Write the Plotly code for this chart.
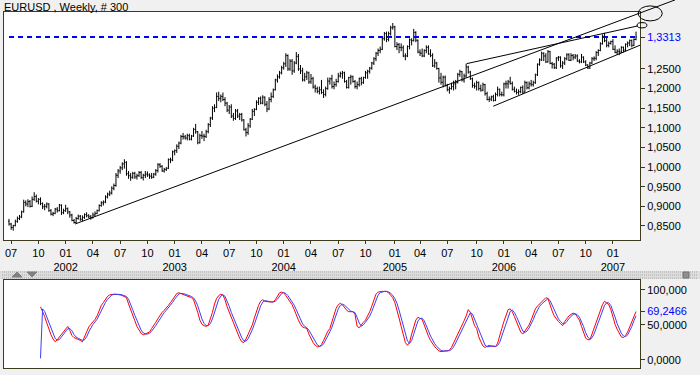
import plotly.graph_objects as go
import pandas as pd

# ---------------- data ----------------
week_dates = pd.date_range("2001-06-29", periods=300, freq="7D")

bar_open = [
    0.862, 0.855, 0.846, 0.851, 0.862, 0.869, 0.873, 0.886, 0.910, 0.906,
    0.912, 0.900, 0.918, 0.925, 0.913, 0.918, 0.907, 0.899, 0.900, 0.906,
    0.889, 0.880, 0.882, 0.893, 0.889, 0.903, 0.884, 0.889, 0.894, 0.886,
    0.878, 0.864, 0.859, 0.869, 0.875, 0.867, 0.872, 0.879, 0.876, 0.873,
    0.871, 0.878, 0.882, 0.889, 0.902, 0.909, 0.911, 0.924, 0.931, 0.934,
    0.946, 0.953, 0.979, 0.990, 0.998, 1.008, 1.012, 0.983, 0.978, 0.974,
    0.984, 0.975, 0.978, 0.986, 0.973, 0.979, 0.982, 0.980, 0.977, 0.974,
    0.982, 0.991, 1.006, 1.002, 0.990, 0.994, 0.997, 1.019, 1.018, 1.039,
    1.042, 1.053, 1.061, 1.078, 1.077, 1.074, 1.080, 1.071, 1.079, 1.096,
    1.090, 1.062, 1.080, 1.079, 1.078, 1.090, 1.108, 1.125, 1.150, 1.152,
    1.180, 1.175, 1.180, 1.172, 1.163, 1.145, 1.153, 1.130, 1.124, 1.143,
    1.130, 1.134, 1.120, 1.095, 1.088, 1.105, 1.122, 1.142, 1.147, 1.165,
    1.175, 1.163, 1.178, 1.160, 1.148, 1.172, 1.180, 1.197, 1.222, 1.230,
    1.240, 1.253, 1.263, 1.284, 1.250, 1.270, 1.245, 1.265, 1.282, 1.250,
    1.245, 1.222, 1.230, 1.240, 1.217, 1.225, 1.204, 1.200, 1.193, 1.197,
    1.190, 1.185, 1.200, 1.219, 1.225, 1.205, 1.210, 1.218, 1.232, 1.238,
    1.240, 1.218, 1.203, 1.228, 1.230, 1.218, 1.205, 1.210, 1.225, 1.215,
    1.228, 1.240, 1.244, 1.252, 1.265, 1.276, 1.290, 1.297, 1.300, 1.327,
    1.340, 1.325, 1.340, 1.355, 1.357, 1.307, 1.312, 1.305, 1.304, 1.283,
    1.283, 1.307, 1.324, 1.322, 1.343, 1.323, 1.293, 1.290, 1.283, 1.297,
    1.305, 1.288, 1.284, 1.258, 1.265, 1.251, 1.227, 1.216, 1.229, 1.208,
    1.197, 1.200, 1.205, 1.212, 1.215, 1.236, 1.243, 1.222, 1.232, 1.255,
    1.242, 1.225, 1.208, 1.206, 1.215, 1.200, 1.196, 1.210, 1.187, 1.172,
    1.173, 1.179, 1.170, 1.185, 1.198, 1.185, 1.184, 1.212, 1.212, 1.217,
    1.213, 1.198, 1.193, 1.190, 1.192, 1.203, 1.191, 1.215, 1.202, 1.212,
    1.210, 1.215, 1.235, 1.262, 1.273, 1.290, 1.283, 1.268, 1.294, 1.264,
    1.262, 1.253, 1.278, 1.280, 1.258, 1.265, 1.276, 1.286, 1.272, 1.284,
    1.280, 1.283, 1.270, 1.268, 1.280, 1.268, 1.260, 1.252, 1.265, 1.276,
    1.277, 1.292, 1.297, 1.314, 1.333, 1.322, 1.310, 1.315, 1.320, 1.300,
    1.292, 1.295, 1.293, 1.305, 1.298, 1.313, 1.316, 1.322, 1.310, 1.325,
]
bar_high = [
    0.868, 0.858, 0.853, 0.866, 0.874, 0.878, 0.889, 0.917, 0.915, 0.918,
    0.916, 0.925, 0.936, 0.930, 0.921, 0.923, 0.910, 0.906, 0.910, 0.908,
    0.893, 0.886, 0.896, 0.898, 0.906, 0.905, 0.894, 0.904, 0.897, 0.888,
    0.881, 0.868, 0.873, 0.879, 0.878, 0.877, 0.882, 0.885, 0.880, 0.878,
    0.884, 0.887, 0.892, 0.905, 0.913, 0.915, 0.928, 0.935, 0.940, 0.951,
    0.958, 0.985, 0.995, 1.003, 1.012, 1.020, 1.015, 0.990, 0.985, 0.988,
    0.988, 0.983, 0.990, 0.990, 0.983, 0.990, 0.989, 0.984, 0.985, 0.985,
    0.995, 1.010, 1.010, 1.005, 0.998, 1.000, 1.022, 1.024, 1.042, 1.045,
    1.058, 1.065, 1.082, 1.087, 1.082, 1.085, 1.085, 1.082, 1.100, 1.110,
    1.092, 1.085, 1.092, 1.085, 1.095, 1.112, 1.128, 1.155, 1.160, 1.190,
    1.192, 1.185, 1.190, 1.178, 1.166, 1.158, 1.160, 1.138, 1.148, 1.148,
    1.138, 1.138, 1.122, 1.100, 1.112, 1.125, 1.148, 1.150, 1.170, 1.178,
    1.180, 1.183, 1.180, 1.168, 1.178, 1.190, 1.200, 1.225, 1.236, 1.245,
    1.258, 1.268, 1.290, 1.287, 1.275, 1.275, 1.270, 1.293, 1.288, 1.260,
    1.253, 1.240, 1.245, 1.243, 1.237, 1.230, 1.210, 1.205, 1.205, 1.222,
    1.198, 1.205, 1.228, 1.228, 1.235, 1.218, 1.225, 1.240, 1.243, 1.245,
    1.243, 1.222, 1.230, 1.235, 1.233, 1.222, 1.218, 1.228, 1.230, 1.230,
    1.245, 1.248, 1.255, 1.268, 1.280, 1.293, 1.302, 1.307, 1.330, 1.344,
    1.345, 1.345, 1.360, 1.367, 1.360, 1.318, 1.316, 1.315, 1.310, 1.290,
    1.310, 1.328, 1.328, 1.352, 1.346, 1.325, 1.300, 1.302, 1.300, 1.310,
    1.310, 1.300, 1.290, 1.275, 1.268, 1.253, 1.240, 1.233, 1.233, 1.212,
    1.205, 1.215, 1.220, 1.222, 1.240, 1.248, 1.245, 1.238, 1.2635, 1.258,
    1.245, 1.228, 1.215, 1.220, 1.218, 1.210, 1.215, 1.212, 1.192, 1.180,
    1.182, 1.184, 1.190, 1.205, 1.200, 1.192, 1.215, 1.220, 1.222, 1.230,
    1.218, 1.205, 1.200, 1.198, 1.205, 1.208, 1.220, 1.218, 1.218, 1.222,
    1.220, 1.238, 1.264, 1.277, 1.294, 1.292, 1.290, 1.298, 1.296, 1.268,
    1.265, 1.280, 1.283, 1.282, 1.270, 1.280, 1.290, 1.290, 1.290, 1.288,
    1.288, 1.287, 1.275, 1.288, 1.282, 1.272, 1.262, 1.268, 1.280, 1.282,
    1.295, 1.300, 1.318, 1.338, 1.342, 1.330, 1.320, 1.322, 1.326, 1.310,
    1.300, 1.302, 1.308, 1.307, 1.315, 1.320, 1.325, 1.325, 1.328, 1.345,
]
bar_low = [
    0.851, 0.840, 0.838, 0.849, 0.858, 0.865, 0.870, 0.884, 0.900, 0.898,
    0.897, 0.898, 0.914, 0.910, 0.905, 0.903, 0.893, 0.890, 0.895, 0.886,
    0.877, 0.875, 0.880, 0.884, 0.887, 0.878, 0.880, 0.886, 0.880, 0.871,
    0.862, 0.856, 0.857, 0.866, 0.863, 0.862, 0.868, 0.872, 0.870, 0.866,
    0.869, 0.874, 0.880, 0.887, 0.899, 0.902, 0.908, 0.920, 0.926, 0.930,
    0.941, 0.950, 0.972, 0.983, 0.992, 0.996, 0.978, 0.970, 0.965, 0.970,
    0.970, 0.968, 0.975, 0.970, 0.966, 0.972, 0.975, 0.970, 0.970, 0.972,
    0.978, 0.986, 0.998, 0.988, 0.986, 0.990, 0.995, 1.010, 1.015, 1.030,
    1.036, 1.046, 1.058, 1.070, 1.070, 1.068, 1.068, 1.068, 1.077, 1.085,
    1.058, 1.060, 1.072, 1.066, 1.074, 1.086, 1.102, 1.120, 1.140, 1.150,
    1.168, 1.165, 1.168, 1.155, 1.140, 1.135, 1.125, 1.118, 1.120, 1.125,
    1.120, 1.116, 1.093, 1.078, 1.082, 1.100, 1.120, 1.130, 1.145, 1.158,
    1.160, 1.160, 1.155, 1.140, 1.145, 1.165, 1.176, 1.195, 1.215, 1.225,
    1.236, 1.248, 1.255, 1.245, 1.245, 1.235, 1.240, 1.262, 1.245, 1.237,
    1.218, 1.218, 1.222, 1.212, 1.212, 1.200, 1.190, 1.188, 1.185, 1.186,
    1.176, 1.180, 1.197, 1.210, 1.200, 1.198, 1.205, 1.215, 1.228, 1.225,
    1.215, 1.200, 1.200, 1.210, 1.215, 1.200, 1.198, 1.205, 1.208, 1.212,
    1.225, 1.225, 1.238, 1.248, 1.260, 1.270, 1.283, 1.290, 1.298, 1.322,
    1.318, 1.320, 1.335, 1.350, 1.305, 1.298, 1.290, 1.295, 1.280, 1.272,
    1.280, 1.300, 1.310, 1.320, 1.318, 1.290, 1.283, 1.280, 1.280, 1.290,
    1.286, 1.280, 1.255, 1.253, 1.248, 1.215, 1.210, 1.203, 1.205, 1.193,
    1.187, 1.197, 1.195, 1.198, 1.213, 1.230, 1.218, 1.215, 1.228, 1.238,
    1.222, 1.202, 1.200, 1.195, 1.195, 1.192, 1.193, 1.182, 1.170, 1.166,
    1.168, 1.167, 1.168, 1.180, 1.180, 1.180, 1.180, 1.200, 1.200, 1.210,
    1.195, 1.190, 1.185, 1.184, 1.188, 1.186, 1.190, 1.198, 1.198, 1.205,
    1.205, 1.212, 1.232, 1.258, 1.270, 1.270, 1.265, 1.266, 1.262, 1.251,
    1.250, 1.250, 1.270, 1.253, 1.250, 1.260, 1.272, 1.270, 1.270, 1.272,
    1.275, 1.268, 1.264, 1.265, 1.265, 1.257, 1.250, 1.250, 1.262, 1.270,
    1.272, 1.283, 1.295, 1.312, 1.318, 1.305, 1.305, 1.312, 1.298, 1.290,
    1.286, 1.285, 1.290, 1.292, 1.295, 1.305, 1.308, 1.305, 1.308, 1.323,
]
bar_close = [
    0.855, 0.846, 0.851, 0.862, 0.869, 0.873, 0.886, 0.910, 0.906, 0.912,
    0.900, 0.918, 0.925, 0.913, 0.918, 0.907, 0.899, 0.900, 0.906, 0.889,
    0.880, 0.882, 0.893, 0.889, 0.903, 0.884, 0.889, 0.894, 0.886, 0.878,
    0.864, 0.859, 0.869, 0.875, 0.867, 0.872, 0.879, 0.876, 0.873, 0.871,
    0.878, 0.882, 0.889, 0.902, 0.909, 0.911, 0.924, 0.931, 0.934, 0.946,
    0.953, 0.979, 0.990, 0.998, 1.008, 1.012, 0.983, 0.978, 0.974, 0.984,
    0.975, 0.978, 0.986, 0.973, 0.979, 0.982, 0.980, 0.977, 0.974, 0.982,
    0.991, 1.006, 1.002, 0.990, 0.994, 0.997, 1.019, 1.018, 1.039, 1.042,
    1.053, 1.061, 1.078, 1.077, 1.074, 1.080, 1.071, 1.079, 1.096, 1.090,
    1.062, 1.080, 1.079, 1.078, 1.090, 1.108, 1.125, 1.150, 1.152, 1.180,
    1.175, 1.180, 1.172, 1.163, 1.145, 1.153, 1.130, 1.124, 1.143, 1.130,
    1.134, 1.120, 1.095, 1.088, 1.105, 1.122, 1.142, 1.147, 1.165, 1.175,
    1.163, 1.178, 1.160, 1.148, 1.172, 1.180, 1.197, 1.222, 1.230, 1.240,
    1.253, 1.263, 1.284, 1.250, 1.270, 1.245, 1.265, 1.282, 1.250, 1.245,
    1.222, 1.230, 1.240, 1.217, 1.225, 1.204, 1.200, 1.193, 1.197, 1.190,
    1.185, 1.200, 1.219, 1.225, 1.205, 1.210, 1.218, 1.232, 1.238, 1.240,
    1.218, 1.203, 1.228, 1.230, 1.218, 1.205, 1.210, 1.225, 1.215, 1.228,
    1.240, 1.244, 1.252, 1.265, 1.276, 1.290, 1.297, 1.300, 1.327, 1.340,
    1.325, 1.340, 1.355, 1.357, 1.307, 1.312, 1.305, 1.304, 1.283, 1.283,
    1.307, 1.324, 1.322, 1.343, 1.323, 1.293, 1.290, 1.283, 1.297, 1.305,
    1.288, 1.284, 1.258, 1.265, 1.251, 1.227, 1.216, 1.229, 1.208, 1.197,
    1.200, 1.205, 1.212, 1.215, 1.236, 1.243, 1.222, 1.232, 1.255, 1.242,
    1.225, 1.208, 1.206, 1.215, 1.200, 1.196, 1.210, 1.187, 1.172, 1.173,
    1.179, 1.170, 1.185, 1.198, 1.185, 1.184, 1.212, 1.212, 1.217, 1.213,
    1.198, 1.193, 1.190, 1.192, 1.203, 1.191, 1.215, 1.202, 1.212, 1.210,
    1.215, 1.235, 1.262, 1.273, 1.290, 1.283, 1.268, 1.294, 1.264, 1.262,
    1.253, 1.278, 1.280, 1.258, 1.265, 1.276, 1.286, 1.272, 1.284, 1.280,
    1.283, 1.270, 1.268, 1.280, 1.268, 1.260, 1.252, 1.265, 1.276, 1.277,
    1.292, 1.297, 1.314, 1.333, 1.322, 1.310, 1.315, 1.320, 1.300, 1.292,
    1.295, 1.293, 1.305, 1.298, 1.313, 1.316, 1.322, 1.310, 1.325, 1.3313,
]

last_price = 1.3313

# stochastic oscillator (starts at bar 15)
stoch_start = 15
stoch_k = [
    76, 70, 62, 53, 44, 36, 30, 26, 29, 33,
    37, 41, 45, 48, 42, 35, 32, 31, 30, 28,
    26, 33, 40, 47, 51, 54, 58, 63, 72, 78,
    82, 87, 91, 93, 94, 94, 94, 94, 93, 92,
    91, 89, 80, 71, 64, 56, 48, 42, 38, 36,
    37, 38, 40, 45, 49, 54, 59, 64, 68, 71,
    74, 78, 82, 87, 92, 95, 96, 95, 94, 93,
    92, 91, 89, 86, 78, 68, 57, 51, 49, 48,
    50, 58, 68, 80, 88, 92, 94, 93, 86, 76,
    68, 60, 55, 46, 38, 31, 26, 25, 30, 36,
    43, 50, 60, 70, 78, 84, 86, 84, 83, 83,
    83, 83, 86, 92, 96, 97, 96, 92, 88, 84,
    79, 72, 64, 57, 51, 47, 46, 45, 37, 30,
    25, 21, 19, 19, 22, 28, 35, 41, 45, 55,
    66, 74, 79, 81, 79, 75, 71, 69, 69, 69,
    65, 48, 46, 51, 54, 57, 62, 69, 77, 87,
    94, 97, 98, 98, 98, 98, 96, 92, 89, 82,
    72, 60, 48, 36, 25, 21, 25, 37, 49, 57,
    61, 60, 58, 50, 41, 34, 28, 23, 19, 16,
    13, 12, 13, 13, 13, 14, 18, 24, 31, 37,
    42, 49, 56, 63, 72, 68, 57, 49, 45, 33,
    26, 20, 18, 19, 21, 20, 19, 19, 24, 33,
    45, 55, 63, 72, 73, 69, 62, 55, 47, 40,
    37, 41, 46, 50, 57, 66, 73, 77, 80, 83,
    86, 89, 88, 78, 70, 63, 58, 55, 52, 49,
    55, 60, 63, 65, 67, 66, 61, 57, 48, 38,
    31, 29, 29, 37, 46, 54, 62, 71, 79, 84,
    82, 79, 72, 61, 51, 44, 38, 33, 32, 35,
    40, 48, 56, 64, 69.2466,
]
stoch_d = [
    2.4, 73.0, 69.3, 61.7, 53.0, 44.3, 36.7, 30.7, 28.3, 29.3,
    33.0, 37.0, 41.0, 44.7, 45.0, 41.7, 36.3, 32.7, 31.0, 29.7,
    28.0, 29.0, 33.0, 40.0, 46.0, 50.7, 54.3, 58.3, 64.3, 71.0,
    77.3, 82.3, 86.7, 90.3, 92.7, 93.7, 94.0, 94.0, 93.7, 93.0,
    92.0, 90.7, 86.7, 80.0, 71.7, 63.7, 56.0, 48.7, 42.7, 38.7,
    37.0, 37.0, 38.3, 41.0, 44.7, 49.3, 54.0, 59.0, 63.7, 67.7,
    71.0, 74.3, 78.0, 82.3, 87.0, 91.3, 94.3, 95.3, 95.0, 94.0,
    93.0, 92.0, 90.7, 88.7, 84.3, 77.3, 67.7, 58.7, 52.3, 49.3,
    49.0, 52.0, 58.7, 68.7, 78.7, 86.7, 91.3, 93.0, 91.0, 85.0,
    76.7, 68.0, 61.0, 53.7, 46.3, 38.3, 31.7, 27.3, 27.0, 30.3,
    36.3, 43.0, 51.0, 60.0, 69.3, 77.3, 82.7, 84.7, 84.3, 83.3,
    83.0, 83.0, 84.0, 87.0, 91.3, 95.0, 96.3, 95.0, 92.0, 88.0,
    83.7, 78.3, 71.7, 64.3, 57.3, 51.7, 48.0, 46.0, 42.7, 37.3,
    30.7, 25.3, 21.7, 19.7, 20.0, 23.0, 28.3, 34.7, 40.3, 47.0,
    55.3, 65.0, 73.0, 78.0, 79.7, 78.3, 75.0, 71.7, 69.7, 69.0,
    67.7, 60.7, 53.0, 48.3, 50.3, 54.0, 57.7, 62.7, 69.3, 77.7,
    86.0, 92.7, 96.3, 97.7, 98.0, 98.0, 97.3, 95.3, 92.3, 87.7,
    81.0, 71.3, 60.0, 48.0, 36.3, 27.3, 23.7, 27.7, 37.0, 47.7,
    55.7, 59.3, 59.7, 56.0, 49.7, 41.7, 34.3, 28.3, 23.3, 19.3,
    16.0, 13.7, 12.7, 12.7, 13.0, 13.3, 15.0, 18.7, 24.3, 30.7,
    36.7, 42.7, 49.0, 56.0, 63.7, 67.7, 65.7, 58.0, 50.3, 42.3,
    34.7, 26.3, 21.3, 19.0, 19.3, 20.0, 20.0, 19.3, 20.7, 25.3,
    34.0, 44.3, 54.3, 63.3, 69.3, 71.3, 68.0, 62.0, 54.7, 47.3,
    41.3, 39.3, 41.3, 45.7, 51.0, 57.7, 65.3, 72.0, 76.7, 80.0,
    83.0, 86.0, 87.7, 85.0, 78.7, 70.3, 63.7, 58.7, 55.0, 52.0,
    52.0, 54.7, 59.3, 62.7, 65.0, 66.0, 64.7, 61.3, 55.3, 47.7,
    39.0, 32.7, 29.7, 31.7, 37.3, 45.7, 54.0, 62.3, 70.7, 78.0,
    81.7, 81.7, 77.7, 70.7, 61.3, 52.0, 44.3, 38.3, 34.3, 33.3,
    35.7, 41.0, 48.0, 56.0, 63.1,
]
last_stoch = 69.2466

# tick labels
price_ticks = [0.85, 0.90, 0.95, 1.00, 1.05, 1.10, 1.15, 1.20, 1.25]
price_tick_text = ["0,8500", "0,9000", "0,9500", "1,0000", "1,0500",
                   "1,1000", "1,1500", "1,2000", "1,2500"]
last_price_text = "1,3313"
osc_ticks = [0, 50, 100]
osc_tick_text = ["0,0000", "50,0000", "100,000"]
last_stoch_text = "69,2466"

# hand-drawn studies: (bar index, price) anchors
trend_a = [(31.5, 0.855), (317.6, 1.4258)]
trend_b = [(218.3, 1.2635), (299.9, 1.3596)]
trend_c = [(230.9, 1.155), (300.9, 1.3104)]
ellipse_big = [(300.0, 1.3723), (311.5, 1.4105)]
ellipse_small = [(299.5, 1.3545), (304.2, 1.3680)]

# ---------------- layout geometry ----------------
W, H = 700, 375
ML, MR, MT, MB = 4, 60, 12, 7
X0, X1 = -2.4, 300.9
Y0, Y1 = 0.8143, 1.395
MAIN_DOM = [0.3596, 1.0]
OSC_DOM = [0.0, 0.2472]
OSC_RANGE = [-11.43, 114.29]
BORDER = "#3c3c1c"
BLUE = "#0000ff"

def to_paper(i, p):
    px = (i - X0) / (X1 - X0)
    py = MAIN_DOM[0] + (p - Y0) / (Y1 - Y0) * (MAIN_DOM[1] - MAIN_DOM[0])
    return px, py

def pix_paper(x, y):
    return (x - ML) / (W - ML - MR), (H - MB - y) / (H - MT - MB)

idx = list(range(len(bar_close)))

fig = go.Figure()
fig.add_trace(go.Ohlc(
    x=idx, open=bar_open, high=bar_high, low=bar_low, close=bar_close,
    increasing=dict(line=dict(color="black", width=1)),
    decreasing=dict(line=dict(color="black", width=1)),
    tickwidth=0.45, xaxis="x", yaxis="y", hoverinfo="skip",
))
fig.add_trace(go.Scatter(
    x=[idx[0], idx[-1]], y=[last_price, last_price], mode="lines",
    line=dict(color=BLUE, width=2, dash="5px,4px"), xaxis="x", yaxis="y",
    hoverinfo="skip",
))
osc_x = list(range(stoch_start, stoch_start + len(stoch_k)))
fig.add_trace(go.Scatter(x=osc_x, y=stoch_k, mode="lines",
                         line=dict(color="#ff0000", width=1), xaxis="x2", yaxis="y2",
                         hoverinfo="skip"))
fig.add_trace(go.Scatter(x=osc_x, y=stoch_d, mode="lines",
                         line=dict(color="#3c3cff", width=1), xaxis="x2", yaxis="y2",
                         hoverinfo="skip"))

# month / year ticks
tickvals, ticktext = [], []
prev_month = None
for i, d in enumerate(week_dates):
    if d.month != prev_month:
        if d.month in (1, 4, 7, 10):
            tickvals.append(i)
            ticktext.append(f"{d.month:02d}" + (f"<br>{d.year}" if d.month == 1 else ""))
        prev_month = d.month

shapes = []
for (a, b) in (trend_a, trend_b, trend_c):
    x0p, y0p = to_paper(*a)
    x1p, y1p = to_paper(*b)
    shapes.append(dict(type="line", xref="paper", yref="paper", x0=x0p, y0=y0p,
                       x1=x1p, y1=y1p, line=dict(color="black", width=1)))
for (a, b) in (ellipse_big, ellipse_small):
    x0p, y0p = to_paper(*a)
    x1p, y1p = to_paper(*b)
    shapes.append(dict(type="circle", xref="paper", yref="paper", x0=x0p, y0=y0p,
                       x1=x1p, y1=y1p, line=dict(color="black", width=1)))

# separator strip between the panes
sx0, sy0 = pix_paper(0, 279)
sx1, sy1 = pix_paper(700, 271)
shapes.append(dict(type="rect", xref="paper", yref="paper", x0=sx0, y0=sy0, x1=sx1, y1=sy1,
                   fillcolor="#dedede", line=dict(width=0), layer="below"))
for yy in (272, 275, 278):
    a0, b0 = pix_paper(2, yy)
    a1, b1 = pix_paper(698, yy)
    shapes.append(dict(type="line", xref="paper", yref="paper", x0=a0, y0=b0, x1=a1, y1=b1,
                       line=dict(color="#a8a8a8", width=1, dash="1px,1px")))
# little up / down arrows
for (cx, up) in ((17, True), (32, False)):
    p1 = pix_paper(cx - 5, 277 if up else 272)
    p2 = pix_paper(cx + 5, 277 if up else 272)
    p3 = pix_paper(cx, 272 if up else 277)
    shapes.append(dict(type="path", xref="paper", yref="paper",
                       path=f"M{p1[0]},{p1[1]} L{p2[0]},{p2[1]} L{p3[0]},{p3[1]} Z",
                       fillcolor="#808080", line=dict(color="#808080", width=1)))
c0 = pix_paper(683, 278)
c1 = pix_paper(689, 272)
shapes.append(dict(type="rect", xref="paper", yref="paper", x0=c0[0], y0=c0[1], x1=c1[0], y1=c1[1],
                   fillcolor="#909090", line=dict(color="#707070", width=1)))

tx, ty = pix_paper(2, 7)
annotations = [dict(text="EURUSD , Weekly, # 300", xref="paper", yref="paper", x=tx, y=ty,
                    xanchor="left", yanchor="middle", showarrow=False,
                    font=dict(size=11, color="black"))]

axis_common = dict(showgrid=False, zeroline=False, showline=True, linecolor=BORDER,
                   linewidth=1, mirror=True, automargin=False)

fig.update_layout(
    width=W, height=H,
    margin=dict(l=ML, r=MR, t=MT, b=MB),
    paper_bgcolor="#f0f0f0", plot_bgcolor="white",
    font=dict(family="Liberation Sans, Arial, sans-serif", size=11, color="black"),
    showlegend=False, hovermode=False,
    xaxis=dict(domain=[0, 1], range=[X0, X1], anchor="y", tickmode="array",
               tickvals=tickvals, ticktext=ticktext, ticks="outside", ticklen=3,
               tickcolor=BORDER, rangeslider=dict(visible=False), **axis_common),
    yaxis=dict(domain=MAIN_DOM, range=[Y0, Y1], anchor="x", side="right", tickmode="array",
               tickvals=price_ticks + [last_price],
               ticktext=price_tick_text + [f'<span style="color:{BLUE}">{last_price_text}</span>'],
               ticks="outside", ticklen=4, tickcolor=BORDER, **axis_common),
    xaxis2=dict(domain=[0, 1], range=[X0, X1], anchor="y2", showticklabels=False,
                ticks="", **axis_common),
    yaxis2=dict(domain=OSC_DOM, range=OSC_RANGE, anchor="x2", side="right", tickmode="array",
                tickvals=osc_ticks + [last_stoch],
                ticktext=osc_tick_text + [f'<span style="color:{BLUE}">{last_stoch_text}</span>'],
                ticks="outside", ticklen=4, tickcolor=BORDER, **axis_common),
    shapes=shapes, annotations=annotations,
)

fig.write_html("out.html", config={"displayModeBar": False},
               post_script="document.body.style.margin='0';")
